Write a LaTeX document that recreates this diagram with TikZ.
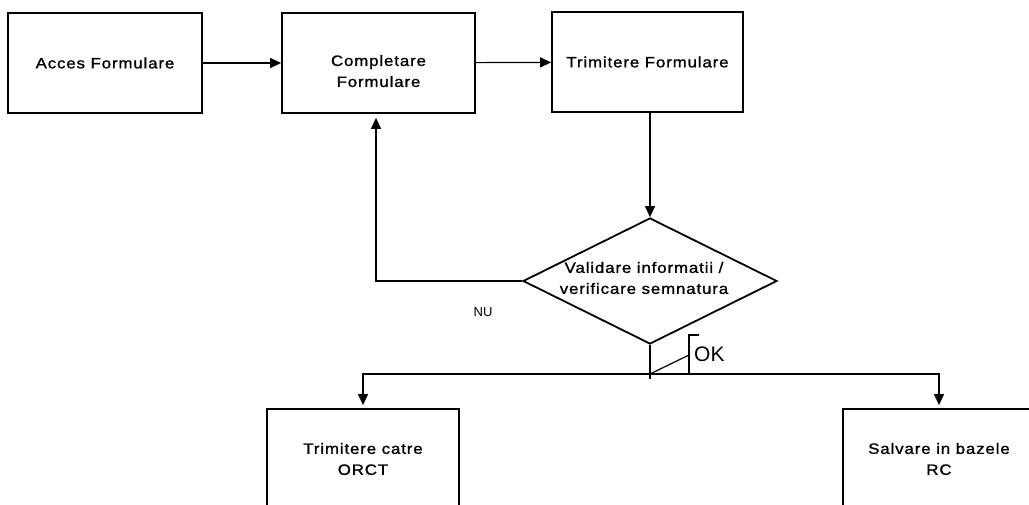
\documentclass[tikz,border=0pt]{standalone}
\usepackage{fontspec}
\setmainfont{Liberation Sans}[FakeStretch=1.12,LetterSpace=6,FakeBold=1.2]
\newfontfamily\plainfont{Liberation Sans}
\usetikzlibrary{arrows.meta,shapes.geometric}
\newcommand{\boxfont}{\fontsize{15}{21}\selectfont}
\begin{document}
\begin{tikzpicture}[x=1pt,y=-1pt,
  box/.style={draw, line width=1.8pt, minimum width=#1, minimum height=100pt,
              inner sep=0pt, align=center, font=\boxfont},
  conn/.style={line width=1.2pt},
  arr/.style={conn, -{Triangle[length=11pt,width=10pt]}}]
\useasboundingbox (0,0) rectangle (1029,505);
\clip (0,0) rectangle (1029,505);
\fill[white] (0,0) rectangle (1029,505);

\node[box=194pt] (b1) at (105,63) {Acces Formulare};
\node[box=193pt] (b2) at (378.5,63) {\rule{0pt}{27pt}Completare\\Formulare};
\node[box=191pt] (b3) at (647.5,62) {Trimitere Formulare};
\node[draw, diamond, line width=1.8pt, minimum width=254pt, minimum height=126pt,
      inner sep=0pt] (dec) at (650,281) {};
\node[align=center, font=\boxfont, inner sep=0pt] (dectxt) at (644,278)
      {Validare informatii /\\verificare semnatura};
\node[box=192pt] (b4) at (363,459) {Trimitere catre\\ORCT};
\node[box=192pt] (b5) at (939,459) {Salvare in bazele\\RC};

\node[font=\plainfont\fontsize{13}{15}\selectfont, inner sep=0pt] (nu) at (483,312) {NU};
\node[font=\plainfont\fontsize{21}{24}\selectfont, inner sep=0pt, anchor=west] (ok) at (694,354) {OK};

\coordinate (loopx) at (376,0);
\coordinate (split) at (650,374);
\coordinate (stub) at (650,379);
\coordinate (ok1) at (689,355);
\coordinate (okb) at (689,374);
\coordinate (okt) at (689,335);
\coordinate (okr) at (699,335);

\draw[arr] (b1) -- (b2);
\draw[arr] (b2) -- (b3);
\draw[arr] (b3.south -| dec.north) -- (dec.north);
\draw[arr, shorten >=4pt] (dec.west) -| (b2.south -| loopx);
\draw[conn] (dec.south) -- (stub);
\draw[arr, shorten >=3pt] (split) -| (b4.north);
\draw[arr, shorten >=3pt] (split) -| (b5.north);
\draw[conn] (split) -- (ok1);
\draw[conn] (okb) -- (okt) -- (okr);
\end{tikzpicture}
\end{document}
